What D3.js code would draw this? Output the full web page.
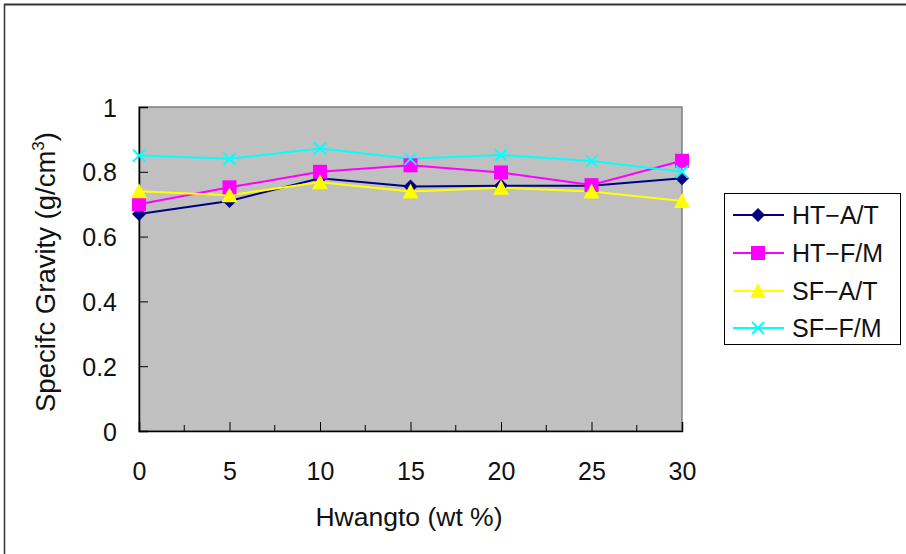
<!DOCTYPE html>
<html><head><meta charset="utf-8">
<script src="https://cdn.jsdelivr.net/npm/d3@7"></script>
<style>
body{margin:0;background:#fff;}
text{font-family:"Liberation Sans",Arial,sans-serif;fill:#111;}
</style></head>
<body>
<svg id="c" width="906" height="554"></svg>
<script>
const xValues = [0, 5, 10, 15, 20, 25, 30];
const htAT = [0.67, 0.71, 0.78, 0.755, 0.757, 0.757, 0.78];
const htFM = [0.70, 0.752, 0.80, 0.82, 0.798, 0.759, 0.834];
const sfAT = [0.74, 0.728, 0.768, 0.739, 0.751, 0.739, 0.71];
const sfFM = [0.85, 0.84, 0.872, 0.84, 0.852, 0.833, 0.80];
const seriesNames = ["HT−A/T", "HT−F/M", "SF−A/T", "SF−F/M"];
const seriesColors = ["#000080", "#FF00FF", "#FFFF00", "#00FFFF"];
const seriesSymbols = ["diamond", "square", "triangle", "cross"];
const yTicks = [0, 0.2, 0.4, 0.6, 0.8, 1];
const yTickLabels = ["0", "0.2", "0.4", "0.6", "0.8", "1"];
const xTicks = [0, 5, 10, 15, 20, 25, 30];
const xMinorTicks = [2.5, 7.5, 12.5, 17.5, 22.5, 27.5];

const series = [htAT, htFM, sfAT, sfFM].map((v, i) => ({
  name: seriesNames[i], color: seriesColors[i], symbol: seriesSymbols[i],
  values: v.map((y, j) => ({x: xValues[j], y}))
}));

const svg = d3.select("#c");
const L = 139, R = 682, T = 107, B = 431;
const x = d3.scaleLinear().domain([0, 30]).range([L, R]);
const y = d3.scaleLinear().domain([0, 1]).range([B, T]);

// outer frame (top and left only)
svg.append("line").attr("x1", 4).attr("x2", 906).attr("y1", 4.5).attr("y2", 4.5).attr("stroke", "#333").attr("stroke-width", 2);
svg.append("line").attr("x1", 4.5).attr("x2", 4.5).attr("y1", 4).attr("y2", 554).attr("stroke", "#333").attr("stroke-width", 1.5);

// plot area
svg.append("rect").attr("x", L).attr("y", T).attr("width", R - L).attr("height", B - T)
  .attr("fill", "#C0C0C0").attr("stroke", "#808080").attr("stroke-width", 1.5);

// y axis
const yAxis = d3.axisLeft(y).tickValues(yTicks).tickFormat((d, i) => yTickLabels[i]).tickSize(-9).tickPadding(22);
const gy = svg.append("g").attr("transform", `translate(${L},0)`).call(yAxis);
gy.select(".domain").attr("stroke", "#000").attr("stroke-width", 1.5);
gy.selectAll(".tick line").attr("stroke", "#000");
gy.selectAll(".tick text").attr("font-size", 25).attr("font-family", "'Liberation Sans',Arial,sans-serif").attr("fill", "#111").attr("dy", "0.36em");

// x axis
const xAxis = d3.axisBottom(x).tickValues(xTicks).tickFormat(d3.format("d")).tickSize(-9).tickPadding(31);
const gx = svg.append("g").attr("transform", `translate(0,${B})`).call(xAxis);
gx.select(".domain").attr("stroke", "#000").attr("stroke-width", 1.5);
gx.selectAll(".tick line").attr("stroke", "#000");
gx.selectAll(".tick text").attr("font-size", 25).attr("font-family", "'Liberation Sans',Arial,sans-serif").attr("fill", "#111");
gx.selectAll(".minor").data(xMinorTicks).enter().append("line").attr("class", "minor")
  .attr("x1", d => x(d)).attr("x2", d => x(d)).attr("y1", 0).attr("y2", -6).attr("stroke", "#000");

// axis titles
svg.append("text").attr("x", 409).attr("y", 526).attr("text-anchor", "middle").attr("font-size", 26.5)
  .text("Hwangto (wt %)");
const yl = svg.append("text").attr("transform", "translate(55,272) rotate(-90)").attr("text-anchor", "middle").attr("font-size", 27.5);
yl.append("tspan").text("Specifc Gravity (g/cm");
yl.append("tspan").attr("font-size", 17).attr("dy", -11).text("3");
yl.append("tspan").attr("dy", 11).text(")");

// markers
function drawMarker(g, s, cx, cy) {
  if (s.symbol === "diamond") {
    g.append("path").attr("d", `M${cx},${cy - 7}L${cx + 7},${cy}L${cx},${cy + 7}L${cx - 7},${cy}Z`).attr("fill", s.color);
  } else if (s.symbol === "square") {
    g.append("rect").attr("x", cx - 7).attr("y", cy - 7).attr("width", 14).attr("height", 14).attr("fill", s.color);
  } else if (s.symbol === "triangle") {
    g.append("path").attr("d", `M${cx},${cy - 8}L${cx + 8},${cy + 7}L${cx - 8},${cy + 7}Z`).attr("fill", s.color);
  } else {
    g.append("path").attr("d", `M${cx - 6},${cy - 6}L${cx + 6},${cy + 6}M${cx - 6},${cy + 6}L${cx + 6},${cy - 6}`).attr("stroke", s.color).attr("stroke-width", 2);
  }
}

const line = d3.line().x(d => x(d.x)).y(d => y(d.y));
series.forEach(s => {
  svg.append("path").datum(s.values).attr("d", line).attr("fill", "none").attr("stroke", s.color).attr("stroke-width", 2);
});
series.forEach(s => {
  const g = svg.append("g");
  s.values.forEach(p => drawMarker(g, s, x(p.x), y(p.y)));
});

// legend
const lg = svg.append("g");
lg.append("rect").attr("x", 724.5).attr("y", 193.5).attr("width", 176).attr("height", 151).attr("fill", "#fff").attr("stroke", "#000").attr("stroke-width", 1);
const ly = [215, 253, 291, 328];
series.forEach((s, i) => {
  lg.append("line").attr("x1", 733).attr("x2", 784).attr("y1", ly[i]).attr("y2", ly[i]).attr("stroke", s.color).attr("stroke-width", 2);
  drawMarker(lg, s, 758, ly[i]);
  lg.append("text").attr("x", 792).attr("y", ly[i]).attr("dy", "0.36em").attr("font-size", 25).text(s.name);
});
</script>
</body></html>
